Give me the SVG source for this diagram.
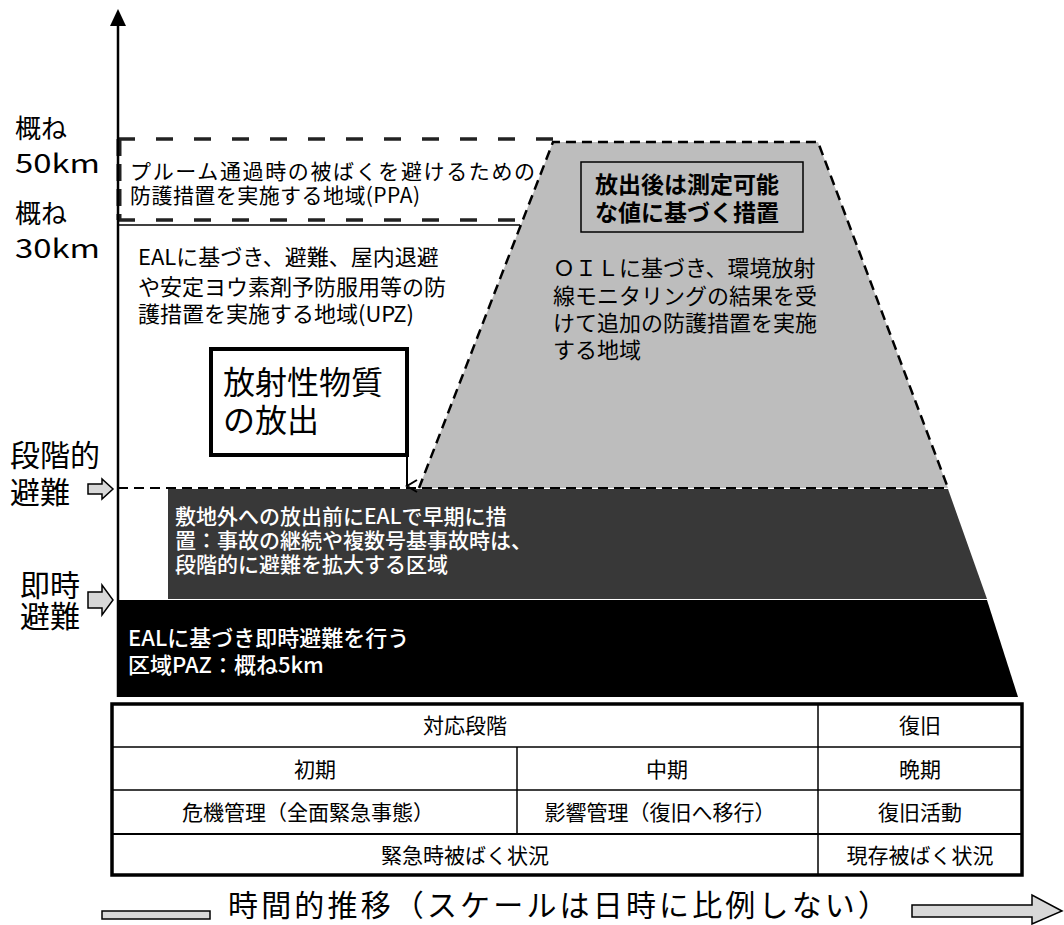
<svg xmlns="http://www.w3.org/2000/svg" width="1064" height="925" viewBox="0 0 1064 925">
<style>
text{font-family:"Noto Sans CJK JP","Noto Sans CJK SC",sans-serif;fill:#000}
.lbl{font-size:26px}
.big{font-size:30px}
.t22{font-size:22px}
.wt{fill:#fff;font-size:21px;font-weight:500}
.tb{font-size:21px}
.ttl{font-size:32px}
.cell{fill:none;stroke:#000;stroke-width:1.5}
.hollow{fill:#d8d8d8;stroke:#000;stroke-width:1.5}
</style>
<defs>
<marker id="vhead" markerWidth="14" markerHeight="14" refX="7" refY="12" orient="auto" markerUnits="userSpaceOnUse" viewBox="0 0 14 14">
<path d="M1,2 L7,12 L13,2" fill="none" stroke="#000" stroke-width="2"/>
</marker>
</defs>
<rect width="1064" height="925" fill="#fff"/>

<g id="zone-oil">
<polygon points="553,142 818,142 948,488 419,488" fill="#bdbdbd"/>
<polyline points="419,488 553,142 818,142 948,488" fill="none" stroke="#000" stroke-width="2.5" stroke-dasharray="10 6"/>
<rect x="581" y="162" width="222" height="70" fill="#bdbdbd" stroke="#000" stroke-width="1.5"/>
<text x="595" y="193" style="font-size:23px;font-weight:700">放出後は測定可能</text>
<text x="595" y="221" style="font-size:23px;font-weight:700">な値に基づく措置</text>
<text class="t22" x="553" y="276">ＯＩＬに基づき、環境放射</text>
<text class="t22" x="553" y="304">線モニタリングの結果を受</text>
<text class="t22" x="553" y="331">けて追加の防護措置を実施</text>
<text class="t22" x="553" y="358">する地域</text>
</g>

<g id="zone-ppa">
<line x1="118" y1="139" x2="553" y2="139" stroke="#222" stroke-width="3.5" stroke-dasharray="17 21"/>
<line x1="118" y1="220" x2="521" y2="220" stroke="#222" stroke-width="3.5" stroke-dasharray="17 21"/>
<line x1="119" y1="139" x2="119" y2="220" stroke="#222" stroke-width="5" stroke-dasharray="17 8"/>
<text x="130" y="179" style="font-size:21px" textLength="405" lengthAdjust="spacing">プルーム通過時の被ばくを避けるための</text>
<text x="130" y="203" style="font-size:21px" textLength="290" lengthAdjust="spacing">防護措置を実施する地域(PPA)</text>
</g>

<g id="zone-upz">
<line x1="118" y1="225" x2="520" y2="225" stroke="#000" stroke-width="1.5"/>
<text class="t22" x="138" y="265">EALに基づき、避難、屋内退避</text>
<text class="t22" x="138" y="295">や安定ヨウ素剤予防服用等の防</text>
<text class="t22" x="138" y="322">護措置を実施する地域(UPZ)</text>
</g>

<g id="zone-staged">
<polygon points="168,489 948,489 987,599 168,599" fill="#383838"/>
<text class="wt" x="175" y="524">敷地外への放出前にEALで早期に措</text>
<text class="wt" x="175" y="548">置：事故の継続や複数号基事故時は、</text>
<text class="wt" x="175" y="572">段階的に避難を拡大する区域</text>
</g>

<g id="zone-paz">
<polygon points="118,600 987,600 1018,697 118,697" fill="#000"/>
<text class="wt" x="128" y="646" style="font-size:22px">EALに基づき即時避難を行う</text>
<text class="wt" x="128" y="673" style="font-size:22px">区域PAZ：概ね5km</text>
</g>

<g id="release-box">
<rect x="211" y="349" width="196" height="106" fill="#fff" stroke="#000" stroke-width="4"/>
<text class="ttl" x="223" y="394">放射性物質</text>
<text class="ttl" x="223" y="432">の放出</text>
</g>

<g id="axis-labels">
<text class="lbl" x="15" y="138">概ね</text>
<text x="15" y="173" textLength="85" lengthAdjust="spacingAndGlyphs" style="font-size:26px">50km</text>
<text class="lbl" x="15" y="223">概ね</text>
<text x="15" y="258" textLength="85" lengthAdjust="spacingAndGlyphs" style="font-size:26px">30km</text>
<text class="big" x="10" y="466">段階的</text>
<text class="big" x="10" y="503">避難</text>
<text class="big" x="20" y="596">即時</text>
<text class="big" x="20" y="627">避難</text>
</g>

<g id="connectors">
<line x1="118" y1="22" x2="118" y2="697" stroke="#000" stroke-width="2.5"/>
<polygon points="118,9 110,26 126,26" fill="#000"/>
<line x1="118" y1="488" x2="948" y2="488" stroke="#000" stroke-width="2" stroke-dasharray="10 6"/>
<line x1="407" y1="455" x2="407" y2="486" stroke="#000" stroke-width="2" marker-end="url(#vhead)"/>
<path class="hollow" d="M88,484 H102 V479 L113,489 L102,499 V494 H88 Z"/>
<path class="hollow" d="M88,592 H102 V585 L113,600 L102,615 V608 H88 Z"/>
</g>

<g id="phase-table">
<rect x="112" y="704" width="910" height="171" fill="#fff" stroke="#000" stroke-width="3.5"/>
<line class="cell" x1="112" y1="747" x2="1022" y2="747"/>
<line class="cell" x1="112" y1="790" x2="1022" y2="790"/>
<line x1="112" y1="834" x2="1022" y2="834" stroke="#000" stroke-width="2"/>
<line class="cell" x1="818" y1="704" x2="818" y2="875"/>
<line class="cell" x1="517" y1="747" x2="517" y2="834"/>
<text class="tb" x="465" y="733" text-anchor="middle">対応段階</text>
<text class="tb" x="920" y="733" text-anchor="middle">復旧</text>
<text class="tb" x="315" y="777" text-anchor="middle">初期</text>
<text class="tb" x="667" y="777" text-anchor="middle">中期</text>
<text class="tb" x="920" y="777" text-anchor="middle">晩期</text>
<text class="tb" x="308" y="820" text-anchor="middle">危機管理（全面緊急事態）</text>
<text class="tb" x="660" y="820" text-anchor="middle">影響管理（復旧へ移行）</text>
<text class="tb" x="920" y="820" text-anchor="middle">復旧活動</text>
<text class="tb" x="465" y="863" text-anchor="middle">緊急時被ばく状況</text>
<text class="tb" x="920" y="863" text-anchor="middle">現存被ばく状況</text>
</g>

<g id="time-axis">
<rect class="hollow" x="102" y="911" width="108" height="8"/>
<text x="228" y="916" style="font-size:30px" textLength="660" lengthAdjust="spacing">時間的推移（スケールは日時に比例しない）</text>
<path class="hollow" d="M912,905 H1032 V895 L1062,911 L1032,924 V917 H912 Z"/>
</g>
</svg>
